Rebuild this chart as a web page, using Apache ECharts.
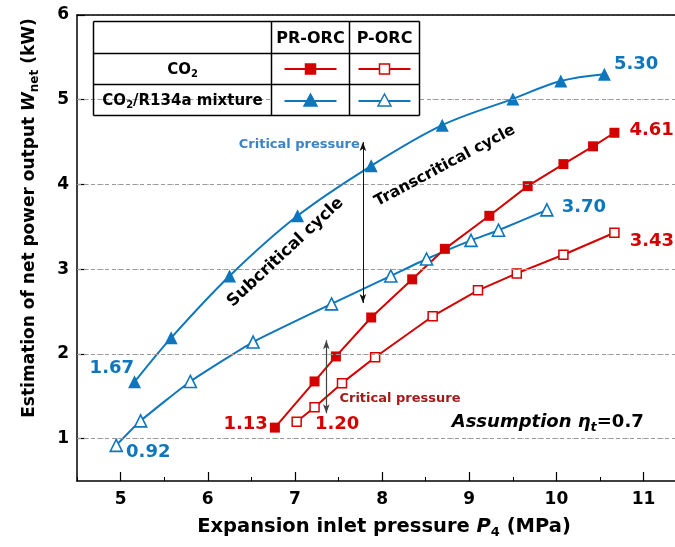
<!DOCTYPE html>
<html>
<head>
<meta charset="utf-8">
<script src="https://cdn.jsdelivr.net/npm/echarts@6/dist/echarts.min.js"></script>
<style>
  html, body { margin: 0; padding: 0; background: #fff; }
  #chart { width: 675px; height: 547px; }
</style>
</head>
<body>
<div id="chart"></div>
<script>
// 数据
const mixPrX = [5.16, 5.58, 6.25, 7.03, 7.875, 8.69, 9.50, 10.05, 10.55];
const mixPrY = [1.67, 2.19, 2.92, 3.63, 4.22, 4.70, 5.01, 5.22, 5.30];
const mixPX = [4.95, 5.23, 5.80, 6.52, 7.42, 8.10, 8.51, 9.02, 9.335, 9.89];
const mixPY = [0.92, 1.21, 1.675, 2.14, 2.59, 2.92, 3.12, 3.34, 3.46, 3.70];
const co2PrX = [6.77, 7.225, 7.47, 7.875, 8.345, 8.72, 9.23, 9.67, 10.08, 10.42, 10.665];
const co2PrY = [1.13, 1.675, 1.97, 2.43, 2.88, 3.24, 3.63, 3.98, 4.24, 4.45, 4.61];
const co2PX = [7.02, 7.225, 7.54, 7.92, 8.58, 9.10, 9.545, 10.08, 10.665];
const co2PY = [1.20, 1.37, 1.655, 1.96, 2.445, 2.75, 2.95, 3.17, 3.43];
const xTickLabels = [5, 6, 7, 8, 9, 10, 11];
const yTickLabels = [1, 2, 3, 4, 5, 6];
// 临界压力箭头 [x, y上, y下]
const mixCritical = [7.78, 4.5, 2.60];
const co2Critical = [7.36, 2.16, 1.30];

const BLUE = "#0e76bc";
const RED = "#d40000";
const FONT = "DejaVu Sans";

const chart = echarts.init(document.getElementById("chart"));

const toPairs = (xs, ys) => xs.map((x, i) => [x, ys[i]]);
const valueLabel = (cfg) => Object.assign({
  show: true,
  formatter: (p) => p.value[1].toFixed(2),
  fontFamily: FONT,
  fontWeight: "bold",
  fontSize: 18
}, cfg);
// 给首尾两个点加数值标签
const labelEnds = (xs, ys, first, last) => {
  const out = toPairs(xs, ys).map((d) => ({ value: d }));
  out[0].label = valueLabel(first);
  out[out.length - 1].label = valueLabel(last);
  return out;
};

const mixPrData = labelEnds(mixPrX, mixPrY,
  { position: "left", distance: 0, offset: [6, -14], color: BLUE },
  { position: "right", distance: 3, offset: [0, -10], color: BLUE });
const mixPData = labelEnds(mixPX, mixPY,
  { position: "right", distance: 3, offset: [0, 7], color: BLUE },
  { position: "right", distance: 8, offset: [0, -3], color: BLUE });
const co2PrData = labelEnds(co2PrX, co2PrY,
  { position: "left", distance: 2, offset: [0, -3], color: RED },
  { position: "right", distance: 10, offset: [0, -2], color: RED });
const co2PData = labelEnds(co2PX, co2PY,
  { position: "right", distance: 13, offset: [0, 3], color: RED },
  { position: "right", distance: 10, offset: [0, 9], color: RED });

const xCommon = { type: "value", min: 4.5, max: 11.36, interval: 0.5 };

const option = {
  animation: false,
  textStyle: { fontFamily: FONT },
  grid: { left: 77, right: 0, top: 15, bottom: 66 },
  xAxis: [
    Object.assign({}, xCommon, {
      position: "bottom",
      axisLine: { show: true, lineStyle: { color: "#000", width: 1.5 } },
      axisTick: { show: true, inside: true, length: 4, lineStyle: { color: "#000", width: 1 } },
      axisLabel: {
        customValues: xTickLabels, margin: 10,
        fontFamily: FONT, fontWeight: "bold", fontSize: 17, color: "#000"
      },
      splitLine: { show: false }
    }),
    Object.assign({}, xCommon, {
      position: "bottom",
      axisLine: { show: false },
      axisTick: { show: true, inside: true, length: 9, customValues: xTickLabels, lineStyle: { color: "#000", width: 1.2 } },
      axisLabel: { show: false },
      splitLine: { show: false }
    }),
    Object.assign({}, xCommon, {
      position: "top",
      axisLine: { show: true, onZero: false, lineStyle: { color: "#000", width: 1.5 } },
      axisTick: { show: false },
      axisLabel: { show: false },
      splitLine: { show: false }
    })
  ],
  yAxis: {
    type: "value",
    min: 0.5,
    max: 6,
    interval: 0.5,
    axisLine: { show: true, lineStyle: { color: "#000", width: 1.5 } },
    axisTick: { show: true, inside: true, length: 8, customValues: yTickLabels, lineStyle: { color: "#000", width: 1.2 } },
    axisLabel: {
      customValues: yTickLabels, margin: 8,
      fontFamily: FONT, fontWeight: "bold", fontSize: 17, color: "#000"
    },
    splitLine: { show: true, lineStyle: { color: "#c4c4c4", type: [2, 3], width: 1 } }
  },
  series: [
    {
      // 整数位置的虚线网格
      type: "line",
      data: [],
      z: 1,
      silent: true,
      markLine: {
        silent: true,
        symbol: "none",
        label: { show: false },
        lineStyle: { color: "#9a9a9a", type: [4, 3], width: 1 },
        data: yTickLabels.slice(0, 5).map((v) => ({ yAxis: v }))
      }
    },
    {
      name: "CO2/R134a PR-ORC",
      type: "line",
      smooth: 0.35,
      data: mixPrData,
      symbol: "triangle",
      symbolSize: 13,
      lineStyle: { color: BLUE, width: 2 },
      itemStyle: { color: BLUE },
      markLine: {
        silent: true,
        symbol: ["arrow", "arrow"],
        symbolSize: [5, 9],
        label: { show: false },
        lineStyle: { color: "#111", type: "solid", width: 1 },
        data: [[{ coord: [mixCritical[0], mixCritical[1]] }, { coord: [mixCritical[0], mixCritical[2]] }]]
      }
    },
    {
      name: "CO2/R134a P-ORC",
      type: "line",
      smooth: 0.15,
      data: mixPData,
      symbol: "triangle",
      symbolSize: 12,
      lineStyle: { color: BLUE, width: 2 },
      itemStyle: { color: "#fff", borderColor: BLUE, borderWidth: 1.6 }
    },
    {
      name: "CO2 PR-ORC",
      type: "line",
      data: co2PrData,
      symbol: "rect",
      symbolSize: 10,
      lineStyle: { color: RED, width: 2 },
      itemStyle: { color: RED },
      markLine: {
        silent: true,
        symbol: ["arrow", "arrow"],
        symbolSize: [5, 9],
        label: { show: false },
        lineStyle: { color: "#444", type: "solid", width: 1.2 },
        data: [[{ coord: [co2Critical[0], co2Critical[1]] }, { coord: [co2Critical[0], co2Critical[2]] }]]
      }
    },
    {
      name: "CO2 P-ORC",
      type: "line",
      data: co2PData,
      symbol: "rect",
      symbolSize: 9,
      lineStyle: { color: RED, width: 2 },
      itemStyle: { color: "#fff", borderColor: RED, borderWidth: 1.5 }
    }
  ]
};

chart.setOption(option);

// 注释文字、坐标轴标题与图例表格
const px = (x, y) => chart.convertToPixel({ xAxisIndex: 0, yAxisIndex: 0 }, [x, y]);
const blueCrit = px(7.05, 4.47);
const redCrit = px(8.205, 1.468);
const subPos = px(6.89, 3.2);
const transPos = px(8.72, 4.22);
const assumPos = px(9.9, 1.19);

const txt = (x, y, text, style, rotation) => ({
  type: "text", x: x, y: y, rotation: rotation || 0, z: 100,
  style: Object.assign({ text: text, fontFamily: FONT, fontWeight: "bold", fill: "#000", align: "center", verticalAlign: "middle" }, style)
});
const line = (x1, y1, x2, y2, color, w) => ({
  type: "line", z: 100, shape: { x1: x1, y1: y1, x2: x2, y2: y2 },
  style: { stroke: color, lineWidth: w || 1.5 }
});
const titleRich = (size) => ({
  n: { fontFamily: FONT, fontWeight: "bold", fontSize: size, fill: "#000" },
  i: { fontFamily: FONT, fontWeight: "bold", fontStyle: "italic", fontSize: size, fill: "#000" },
  s: { fontFamily: FONT, fontWeight: "bold", fontSize: Math.round(size * 0.68), fill: "#000", padding: [Math.round(size * 0.55), 0, 0, 0] }
});

// 表格
const T = { l: 93.5, c1: 271.5, c2: 349.5, r: 419.5, t: 21.5, h: 53.5, m: 84.5, b: 115.5 };
const legendSym = (cx, cy, color, shape, filled) => {
  const items = [line(cx - 26, cy, cx + 26, cy, color, 2)];
  const fill = filled ? color : "#fff";
  if (shape === "rect") {
    items.push({ type: "rect", z: 101, shape: { x: cx - 5, y: cy - 5, width: 10, height: 10 }, style: { fill: fill, stroke: color, lineWidth: 1.5 } });
  } else {
    items.push({ type: "polygon", z: 101, shape: { points: [[cx, cy - 7], [cx + 6.5, cy + 5], [cx - 6.5, cy + 5]] }, style: { fill: fill, stroke: color, lineWidth: 1.5 } });
  }
  return items;
};

const graphics = [
  { type: "rect", z: 99, shape: { x: T.c1, y: T.t, width: T.r - T.c1, height: T.b - T.t }, style: { fill: "#fff" } },
  line(T.l, T.t, T.r, T.t, "#000", 1.5),
  line(T.l, T.h, T.r, T.h, "#000", 1.5),
  line(T.l, T.m, T.r, T.m, "#000", 1.5),
  line(T.l, T.b, T.r, T.b, "#000", 1.5),
  line(T.l, T.t, T.l, T.b, "#000", 1.5),
  line(T.c1, T.t, T.c1, T.b, "#000", 1.5),
  line(T.c2, T.t, T.c2, T.b, "#000", 1.5),
  line(T.r, T.t, T.r, T.b, "#000", 1.5),
  txt((T.c1 + T.c2) / 2, (T.t + T.h) / 2 + 1, "PR-ORC", { fontSize: 16 }),
  txt((T.c2 + T.r) / 2, (T.t + T.h) / 2 + 1, "P-ORC", { fontSize: 16 }),
  txt((T.l + T.c1) / 2, (T.h + T.m) / 2 + 1, "{n|CO}{s|2}", { rich: titleRich(15) }),
  txt((T.l + T.c1) / 2, (T.m + T.b) / 2 + 1, "{n|CO}{s|2}{n|/R134a mixture}", { rich: titleRich(15) })
]
  .concat(legendSym((T.c1 + T.c2) / 2, (T.h + T.m) / 2, RED, "rect", true))
  .concat(legendSym((T.c2 + T.r) / 2, (T.h + T.m) / 2, RED, "rect", false))
  .concat(legendSym((T.c1 + T.c2) / 2, (T.m + T.b) / 2 + 1, BLUE, "tri", true))
  .concat(legendSym((T.c2 + T.r) / 2, (T.m + T.b) / 2 + 1, BLUE, "tri", false))
  .concat([
    txt(blueCrit[0], blueCrit[1], "Critical pressure", { fontSize: 13, fill: "#3f82c4" }),
    txt(redCrit[0], redCrit[1], "Critical pressure", { fontSize: 13, fill: "#a31a1a" }),
    txt(subPos[0], subPos[1], "Subcritical cycle", { fontSize: 16.5 }, 0.75),
    txt(transPos[0], transPos[1], "Transcritical cycle", { fontSize: 15.5 }, 0.49),
    txt(assumPos[0], assumPos[1], "{a|Assumption }{e|η}{t|t}{v|=0.7}", {
      rich: {
        a: { fontFamily: FONT, fontWeight: "bold", fontStyle: "italic", fontSize: 18, fill: "#000" },
        e: { fontFamily: FONT, fontWeight: "bold", fontStyle: "italic", fontSize: 18, fill: "#000" },
        t: { fontFamily: FONT, fontWeight: "bold", fontStyle: "italic", fontSize: 13, fill: "#000", padding: [10, 0, 0, 0] },
        v: { fontFamily: FONT, fontWeight: "bold", fontSize: 18, fill: "#000" }
      }
    }),
    // 坐标轴标题
    txt(384, 527, "{n|Expansion inlet pressure }{i|P}{s|4}{n| (MPa)}", { rich: titleRich(19.5) }),
    txt(30, 218, "{n|Estimation of net power output }{i|W}{s|net}{n| (kW)}", { rich: titleRich(17) }, Math.PI / 2)
  ]);

chart.setOption({ graphic: graphics });
</script>
</body>
</html>
